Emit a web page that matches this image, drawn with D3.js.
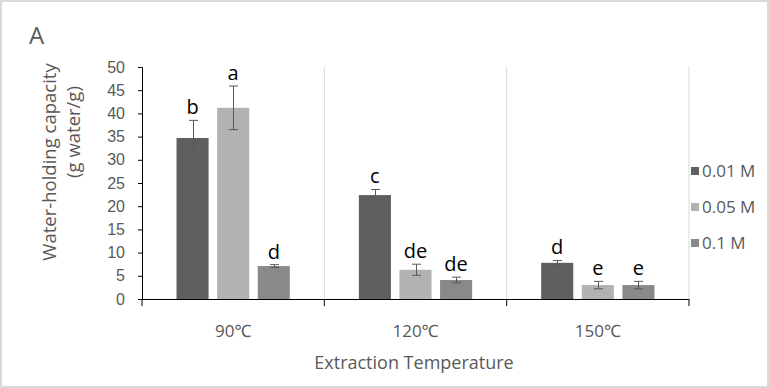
<!DOCTYPE html>
<html>
<head>
<meta charset="utf-8">
<script src="https://cdn.jsdelivr.net/npm/d3@7"></script>
<style>
  html, body { margin: 0; padding: 0; background: #fff; }
  svg { display: block; font-family: "Open Sans", "Noto Sans", sans-serif; }
</style>
</head>
<body>
<svg id="chart" width="769" height="388"></svg>
<script>
// water-holding capacity by extraction temperature and concentration
const categories = ['90℃', '120℃', '150℃'];
const seriesNames = ['0.01 M', '0.05 M', '0.1 M'];
const means = [
  [34.7, 22.4, 7.8],   // 0.01 M
  [41.2, 6.3, 3.0],    // 0.05 M
  [7.1, 4.1, 3.0]      // 0.1 M
];
const errors = [
  [3.8, 1.2, 0.5],
  [4.7, 1.2, 0.8],
  [0.3, 0.6, 0.8]
];
const letters = [
  ['b', 'c', 'd'],
  ['a', 'de', 'e'],
  ['d', 'de', 'e']
];
const yTicks = [0, 5, 10, 15, 20, 25, 30, 35, 40, 45, 50];

const colors = ['#5f5f5f', '#b2b2b2', '#898989'];
const textGray = '#595959';

const svg = d3.select('#chart');

// outer frame
svg.append('rect')
  .attr('x', 1).attr('y', 1).attr('width', 767).attr('height', 386)
  .attr('fill', '#fff').attr('stroke', '#d9d9d9').attr('stroke-width', 2);

const plot = {left: 142, right: 689, top: 67, bottom: 299};

const x0 = d3.scaleBand().domain(categories).range([plot.left, plot.right]);
const x1 = d3.scaleBand().domain(seriesNames).range([0, x0.bandwidth()])
  .paddingInner(0.21).paddingOuter(0.85);
const y = d3.scaleLinear().domain([0, 50]).range([plot.bottom, plot.top]);

// vertical gridlines at category boundaries
svg.append('g').selectAll('line')
  .data(categories)
  .join('line')
  .attr('x1', d => x0(d) + x0.bandwidth())
  .attr('x2', d => x0(d) + x0.bandwidth())
  .attr('y1', plot.top).attr('y2', plot.bottom)
  .attr('stroke', '#d9d9d9').attr('stroke-width', 1);

// y axis
const yAxis = svg.append('g')
  .attr('transform', `translate(${plot.left},0)`)
  .call(d3.axisLeft(y).tickValues(yTicks).tickSize(4).tickPadding(13));
yAxis.select('.domain').attr('stroke', '#000');
yAxis.selectAll('.tick line').attr('stroke', '#000');
yAxis.selectAll('.tick text')
  .attr('fill', textGray).style('font-size', '16px');

// x axis line with ticks at boundaries
const xg = svg.append('g');
xg.append('line')
  .attr('x1', plot.left).attr('x2', plot.right)
  .attr('y1', plot.bottom + 0.5).attr('y2', plot.bottom + 0.5)
  .attr('stroke', '#000');
xg.selectAll('line.tk')
  .data([plot.left].concat(categories.map(c => x0(c) + x0.bandwidth())))
  .join('line').attr('class', 'tk')
  .attr('x1', d => d).attr('x2', d => d)
  .attr('y1', plot.bottom).attr('y2', plot.bottom + 7)
  .attr('stroke', '#000');
xg.selectAll('text')
  .data(categories)
  .join('text')
  .attr('x', d => x0(d) + x0.bandwidth() / 2)
  .attr('y', 337)
  .attr('text-anchor', 'middle')
  .attr('fill', textGray).style('font-size', '17px')
  .text(d => d);

// bars, error bars, letters
const rows = [];
seriesNames.forEach((s, si) => {
  categories.forEach((c, ci) => {
    rows.push({s, si, c, v: means[si][ci], e: errors[si][ci], lab: letters[si][ci]});
  });
});

const bars = svg.append('g');
bars.selectAll('rect')
  .data(rows)
  .join('rect')
  .attr('x', d => x0(d.c) + x1(d.s))
  .attr('y', d => y(d.v))
  .attr('width', x1.bandwidth())
  .attr('height', d => y(0) - y(d.v))
  .attr('fill', d => colors[d.si]);

const eb = svg.append('g').attr('stroke', '#595959').attr('stroke-width', 1);
rows.forEach(d => {
  const cx = Math.round(x0(d.c) + x1(d.s) + x1.bandwidth() / 2) + 0.5;
  const yt = y(d.v + d.e), yb = y(d.v - d.e);
  eb.append('line').attr('x1', cx).attr('x2', cx).attr('y1', yt).attr('y2', yb);
  eb.append('line').attr('x1', cx - 4.5).attr('x2', cx + 4.5).attr('y1', yt).attr('y2', yt);
  eb.append('line').attr('x1', cx - 4.5).attr('x2', cx + 4.5).attr('y1', yb).attr('y2', yb);
});

svg.append('g').selectAll('text')
  .data(rows)
  .join('text')
  .attr('x', d => x0(d.c) + x1(d.s) + x1.bandwidth() / 2)
  .attr('y', d => y(d.v + d.e) - 6)
  .attr('text-anchor', 'middle')
  .attr('fill', '#000').style('font-size', '20px')
  .text(d => d.lab);

// axis titles
svg.append('text')
  .attr('transform', 'translate(56,162) rotate(-90)')
  .attr('text-anchor', 'middle')
  .attr('fill', textGray).style('font-size', '18.5px')
  .text('Water-holding capacity');
svg.append('text')
  .attr('transform', 'translate(80,132) rotate(-90)')
  .attr('text-anchor', 'middle')
  .attr('fill', textGray).style('font-size', '18.5px')
  .text('(g water/g)');

svg.append('text')
  .attr('x', 414).attr('y', 369)
  .attr('text-anchor', 'middle')
  .attr('fill', textGray).style('font-size', '18px')
  .text('Extraction Temperature');

// panel letter
svg.append('text')
  .attr('x', 29).attr('y', 44)
  .attr('fill', textGray).style('font-size', '24px')
  .text('A');

// legend
const legend = svg.append('g');
seriesNames.forEach((s, i) => {
  const ly = 171 + i * 36;
  legend.append('rect')
    .attr('x', 691).attr('y', ly - 4).attr('width', 8).attr('height', 8)
    .attr('fill', colors[i]);
  legend.append('text')
    .attr('x', 702).attr('y', ly)
    .attr('dy', '0.35em')
    .attr('fill', textGray).style('font-size', '17px')
    .text(s);
});
</script>
</body>
</html>
